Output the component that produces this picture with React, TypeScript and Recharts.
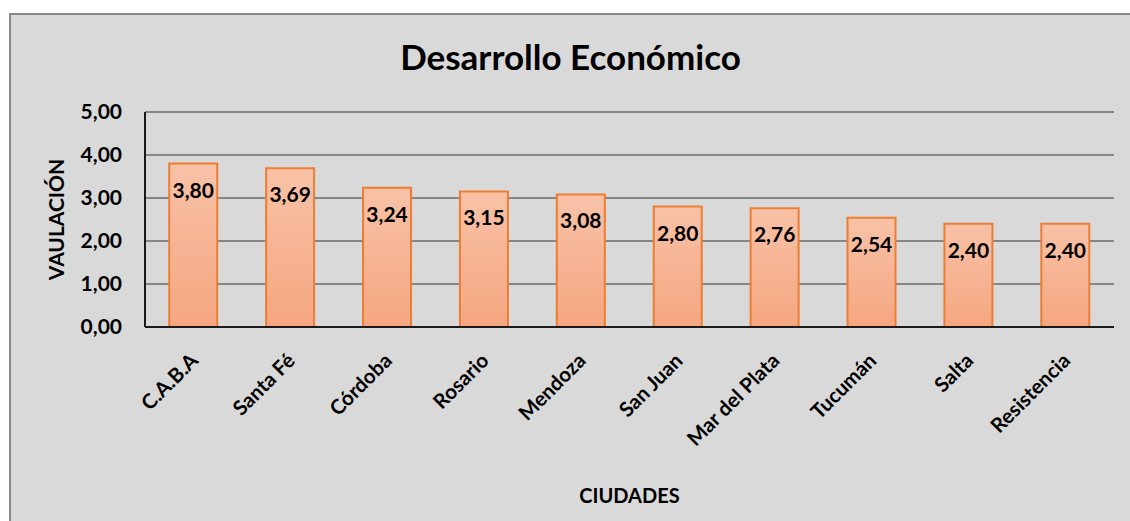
import React from 'react';
import { BarChart, Bar, XAxis, YAxis, CartesianGrid, LabelList, Label } from 'recharts';

const ciudades = ['C.A.B.A', 'Santa Fé', 'Córdoba', 'Rosario', 'Mendoza', 'San Juan', 'Mar del Plata', 'Tucumán', 'Salta', 'Resistencia'];
const valuacion = [3.8, 3.69, 3.24, 3.15, 3.08, 2.8, 2.76, 2.54, 2.4, 2.4];
const yTicks = [0, 1, 2, 3, 4, 5];

const data = ciudades.map((c, i) => ({ ciudad: c, valor: valuacion[i] }));

const FONT = 'Lato, "Open Sans", sans-serif';
const fmt = (v: number) => v.toFixed(2).replace('.', ',');

const CityTick = (props: any) => {
  const { x, y, payload } = props;
  const ax = x + 6;
  const ay = y + 27;
  return (
    <text
      x={ax}
      y={ay}
      textAnchor="end"
      transform={`rotate(-45, ${ax}, ${ay})`}
      fontFamily={FONT}
      fontWeight={700}
      fontSize={20.5}
      fill="#000"
    >
      {payload.value}
    </text>
  );
};

export default function App() {
  return (
    <div style={{ position: 'absolute', left: 0, top: 0, width: 1130, height: 521, background: '#fff', overflow: 'hidden' }}>
      <div
        style={{
          position: 'absolute',
          left: 9,
          top: 13,
          width: 1119,
          height: 506,
          background: '#d9d9d9',
          borderTop: '2px solid #888',
          borderLeft: '2px solid #888',
          fontFamily: FONT,
        }}
      >
        <div
          style={{
            position: 'absolute',
            left: 0,
            width: 1119,
            top: 20,
            textAlign: 'center',
            fontSize: 35,
            fontWeight: 700,
            color: '#000',
          }}
        >
          Desarrollo Económico
        </div>
        <BarChart
          width={1119}
          height={506}
          data={data}
          margin={{ top: 97, right: 16, left: 0, bottom: 14 }}
          barCategoryGap="25%"
        >
          <defs>
            <linearGradient id="barFill" x1="0" y1="0" x2="0" y2="1">
              <stop offset="0%" stopColor="#f8c2a7" />
              <stop offset="100%" stopColor="#f5a680" />
            </linearGradient>
          </defs>
          <CartesianGrid vertical={false} stroke="#868686" strokeWidth={2} />
          <XAxis
            dataKey="ciudad"
            height={180}
            axisLine={{ stroke: '#1a1a1a', strokeWidth: 2 }}
            tickLine={false}
            interval={0}
            tick={<CityTick />}
          >
            <Label
              value="CIUDADES"
              position="insideBottom"
              offset={4}
              style={{ fontFamily: FONT, fontWeight: 700, fontSize: 20, fill: '#000' }}
            />
          </XAxis>
          <YAxis
            width={134}
            domain={[0, 5]}
            ticks={yTicks}
            tickFormatter={fmt}
            axisLine={{ stroke: '#1a1a1a', strokeWidth: 2 }}
            tickLine={false}
            tickSize={0}
            tickMargin={23}
            tick={{ fontFamily: FONT, fontWeight: 700, fontSize: 21, fill: '#000' }}
          >
            <Label
              value="VAULACIÓN"
              angle={-90}
              position="insideLeft"
              offset={46}
              style={{ textAnchor: 'middle', fontFamily: FONT, fontWeight: 700, fontSize: 21, fill: '#000' }}
            />
          </YAxis>
          <Bar dataKey="valor" fill="url(#barFill)" stroke="#ed7d31" strokeWidth={2} isAnimationActive={false}>
            <LabelList
              dataKey="valor"
              position="insideTop"
              offset={19}
              formatter={(v: any) => fmt(Number(v))}
              style={{ fontFamily: FONT, fontWeight: 700, fontSize: 21, fill: '#000' }}
            />
          </Bar>
        </BarChart>
      </div>
    </div>
  );
}
